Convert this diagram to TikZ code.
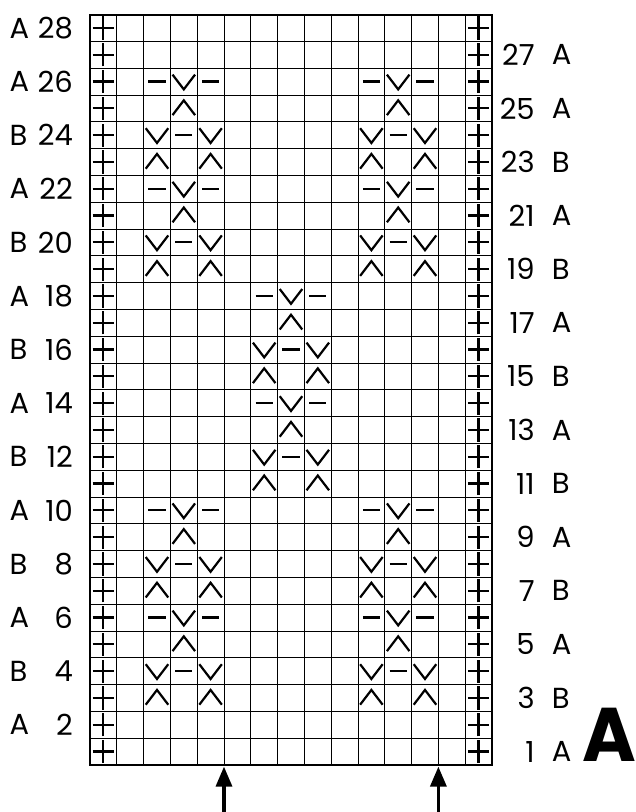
\documentclass[tikz,border=0pt]{standalone}
\usepackage{fontspec}
\setmainfont{Poppins}
\usetikzlibrary{calc,arrows.meta}

\tikzset{
  knit/.style={line width=2.2pt,line cap=butt},
  lbl/.style={font=\fontsize{29}{32}\selectfont,inner sep=0pt},
}

\begin{document}
\begin{tikzpicture}[x=26.8pt,y=26.8pt,line join=miter]
\useasboundingbox (-3.358,-1.754) rectangle (20.373,28.545);
\coordinate (SW) at (0,0);
\coordinate (NE) at (15,28);
\coordinate (a1) at (5,-1.76);
\coordinate (t1) at (5,-0.06);
\coordinate (a2) at (13,-1.76);
\coordinate (t2) at (13,-0.06);
\foreach \c in {1,...,14}{\draw[line width=0.9pt] (\c,0)--(\c,28);}
\foreach \r in {1,...,27}{\draw[line width=0.9pt] (0,\r)--(15,\r);}
\draw[line width=2pt] (SW) rectangle (NE);
% edge stitches
\foreach \r in {1,...,28}{\foreach \c in {1,15}{\draw[knit] (\c-0.9,\r-0.5)--(\c-0.1,\r-0.5) (\c-0.5,\r-0.93)--(\c-0.5,\r-0.07);}}
% the three motifs
\foreach \dx/\dy in {2/2,10/2,2/18,10/18,6/10}{
  \foreach \c/\r in {1/1,3/1,2/3,1/5,3/5,2/7}{\draw[knit] (\dx+\c-0.92,\dy+\r-0.75)--(\dx+\c-0.5,\dy+\r-0.2)--(\dx+\c-0.08,\dy+\r-0.75);}
  \foreach \c/\r in {1/2,3/2,2/4,1/6,3/6,2/8}{\draw[knit] (\dx+\c-0.92,\dy+\r-0.24)--(\dx+\c-0.5,\dy+\r-0.79)--(\dx+\c-0.08,\dy+\r-0.24);}
  \foreach \c/\r in {2/2,1/4,3/4,2/6,1/8,3/8}{\draw[knit] (\dx+\c-0.82,\dy+\r-0.5)--(\dx+\c-0.18,\dy+\r-0.5);}
}
% row numbers
\foreach \r/\s in {28/A,26/A,24/B,22/A,20/B,18/A,16/B,14/A,12/B,10/A,8/B,6/A,4/B,2/A}{\node[lbl,anchor=west] (ls\r) at (-3.01,\r-0.5) {\s}; \node[lbl,anchor=east] (ln\r) at (-0.634,\r-0.5) {\r};}
\foreach \r/\s in {27/A,25/A,23/B,21/A,19/B,17/A,15/B,13/A,11/B,9/A,7/B,5/A,3/B,1/A}{\node[lbl,anchor=east] (rn\r) at (16.6,\r-0.5) {\r}; \node[lbl,anchor=west] (rs\r) at (17.23,\r-0.5) {\s};}
\node[font=\fontsize{76}{80}\selectfont\bfseries,inner sep=0pt,anchor=base east,xscale=0.96] (bigA) at (20.373,0.12) {A};
\draw[line width=3.3pt,-{Triangle[width=16pt,length=20pt]}] (a1)--(t1);
\draw[line width=3.3pt,-{Triangle[width=16pt,length=20pt]}] (a2)--(t2);
\end{tikzpicture}
\end{document}
